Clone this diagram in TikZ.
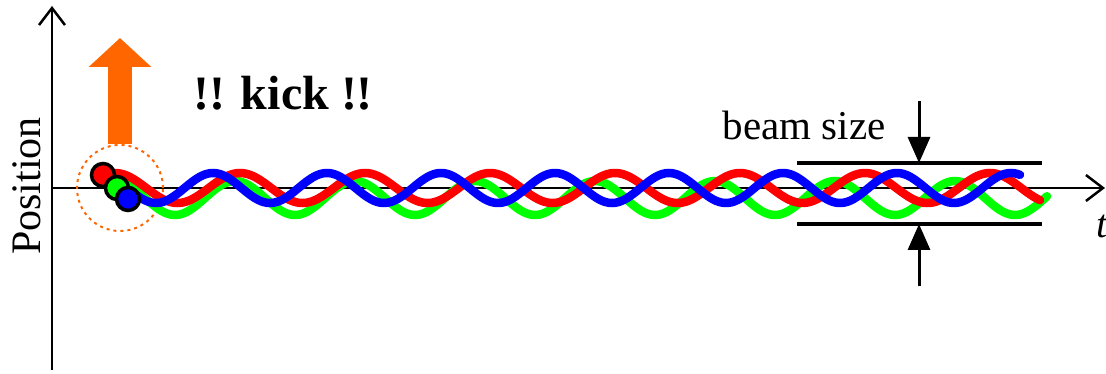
\documentclass[tikz,border=0pt]{standalone}
\usepackage{fontspec}
\setmainfont{Liberation Serif}
\usetikzlibrary{arrows.meta, positioning}
\definecolor{beamred}{RGB}{255,0,0}
\definecolor{beamgreen}{RGB}{0,255,0}
\definecolor{beamblue}{RGB}{0,0,255}
\definecolor{kickorange}{RGB}{255,102,0}

\begin{document}
\begin{tikzpicture}[
        x=1pt, y=-1pt,
        axis/.style = {draw=black, line width=2pt, -{Straight Barb[length=17pt, width=26pt, line width=2.5pt]}},
        orbit/.style = {line width=8.5pt, line cap=round, samples=300},
        bunch/.style = {circle, draw=black, line width=3.5pt, minimum size=23pt, inner sep=0pt},
        envelope/.style = {draw=black, line width=4pt},
        squeeze/.style = {draw=black, line width=3pt, -{Triangle[length=26pt, width=22pt]}},
        kick/.style = {draw=kickorange, line width=24pt, -{Triangle[length=29pt, width=61pt]}},
        txt/.style = {font=\fontsize{41}{48}\selectfont, inner sep=0pt}
    ]
        \useasboundingbox (0,0) rectangle (1106,374);

        % Axes
        \coordinate (origin) at (52,188);
        \coordinate (ybottom) at (52,370);
        \coordinate (yaxis) at (52,6);
        \coordinate (taxis) at (1105,188);
        \draw [axis] (ybottom) -- (yaxis);
        \draw [axis] (origin) -- (taxis);
        \node (poslabel) [txt, font=\fontsize{42}{50}\selectfont, rotate=90] at (27,186) {Position};
        \node (tlabel) [txt, font=\fontsize{40}{48}\selectfont\itshape, anchor=base west] at (1096,238) {t};

        % Kick
        \node (kickzone) [circle, draw=kickorange, dash pattern=on 3pt off 4pt, line width=2pt, minimum size=86pt, inner sep=0pt] at (120,188) {};
        \coordinate (kicktop) at (120,38);
        \draw [kick] (kickzone.north) -- (kicktop);
        \node (kicklabel) [txt, font=\fontsize{48}{56}\selectfont\bfseries, anchor=base] at (283,110) {!! kick !!};

        % Orbits
        \draw [orbit, beamgreen, domain=115:1047] plot (\x, {198 - 17*cos(3*(\x-235))});
        \draw [orbit, beamred, domain=102:1040] plot (\x, {188 - 15*cos(2.88*(\x-115))});
        \draw [orbit, beamblue, domain=130:1020] plot (\x, {188 - 15*cos(3.158*(\x-213))});

        % Bunches
        \node (redbunch) [bunch, fill=beamred] at (103,175) {};
        \node (greenbunch) [bunch, fill=beamgreen] at (117,188) {};
        \node (bluebunch) [bunch, fill=beamblue] at (128,199) {};

        % Beam size
        \coordinate (uppL) at (797,163);
        \coordinate (uppR) at (1042,163);
        \coordinate (lowL) at (797,224);
        \coordinate (lowR) at (1042,224);
        \draw [envelope] (uppL) -- (uppR);
        \draw [envelope] (lowL) -- (lowR);
        \coordinate (upptip) at (919,163);
        \coordinate (lowtip) at (919,224);
        \draw [squeeze] (919,101) coordinate (uppstart) -- (upptip);
        \draw [squeeze] (919,286) coordinate (lowstart) -- (lowtip);
        \node (beamlabel) [txt, anchor=base] at (804,140) {beam size};

    \end{tikzpicture}
\end{document}
